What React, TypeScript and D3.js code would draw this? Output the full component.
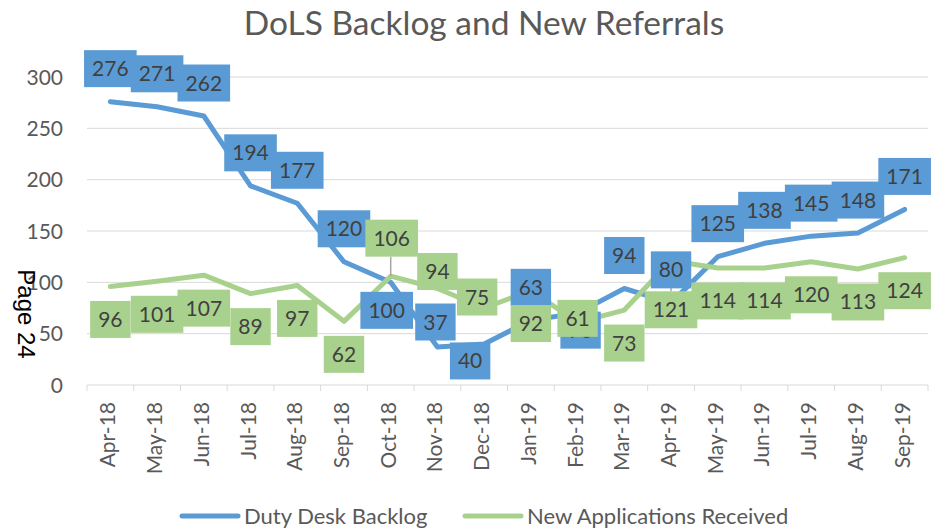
import * as React from "react";
import * as d3 from "d3";

const months = [
  "Apr-18", "May-18", "Jun-18", "Jul-18", "Aug-18", "Sep-18",
  "Oct-18", "Nov-18", "Dec-18", "Jan-19", "Feb-19", "Mar-19",
  "Apr-19", "May-19", "Jun-19", "Jul-19", "Aug-19", "Sep-19",
];
const backlog = [276, 271, 262, 194, 177, 120, 100, 37, 40, 63, 70, 94, 80, 125, 138, 145, 148, 171];
const newApps = [96, 101, 107, 89, 97, 62, 106, 94, 75, 92, 61, 73, 121, 114, 114, 120, 113, 124];
const yTicks = [0, 50, 100, 150, 200, 250, 300];
const seriesNames = ["Duty Desk Backlog", "New Applications Received"];

// hand-placed data label nudges (px), like the dragged labels in the original
const backlogShift: [number, number][] = months.map(() => [0, -33]);
backlogShift[6] = [-4, 28];
backlogShift[7] = [-2, -25];
backlogShift[8] = [-14, 17];
backlogShift[10] = [3, 17];

const newAppsShift: [number, number][] = months.map(() => [0, 33]);
newAppsShift[6] = [1, -38];
newAppsShift[7] = [0, -17];
newAppsShift[8] = [-7, -11];
newAppsShift[10] = [0, -4];
newAppsShift[12] = [0, 49];
const leaders = [[1, 6], [1, 12]]; // [series, index] with a leader line

const BLUE = "#5B9BD5";
const GREEN = "#A9D18E";
const FONT = "Lato, 'Open Sans', sans-serif";

const App = () => {
  const width = 932;
  const height = 528;
  const left = 87;
  const right = 928;

  const x = d3.scaleBand().domain(months).range([left, right]).padding(0);
  const y = d3.scaleLinear().domain([0, 300]).range([385, 77]);
  const cx = (m: string) => (x(m) ?? 0) + x.bandwidth() / 2;

  const line = d3
    .line<number>()
    .x((_, i) => cx(months[i]))
    .y((d) => y(d));

  const series = [
    { values: backlog, color: BLUE, shift: backlogShift },
    { values: newApps, color: GREEN, shift: newAppsShift },
  ];

  const boxH = 37;
  const boxW = (v: number) => String(v).length * 12.2 + 16;

  return (
    <svg
      width={width}
      height={height}
      viewBox={`0 0 ${width} ${height}`}
      style={{ position: "absolute", left: 0, top: 0, background: "#fff" }}
    >
      <rect x={0} y={0} width={width} height={height} fill="#fff" />

      {yTicks.map((t) => (
        <g key={t}>
          {t > 0 && <line x1={left} x2={right} y1={y(t)} y2={y(t)} stroke="#D9D9D9" strokeWidth={1} />}
          <text
            x={63}
            y={y(t) + 7.5}
            textAnchor="end"
            fill="#595959"
            fontSize={21}
            fontFamily={FONT}
          >
            {t}
          </text>
        </g>
      ))}

      <line x1={left} x2={right} y1={y(0)} y2={y(0)} stroke="#D9D9D9" strokeWidth={1} />
      {months.map((m) => (
        <line key={m} x1={x(m)} x2={x(m)} y1={y(0)} y2={y(0) + 6} stroke="#D9D9D9" />
      ))}
      <line x1={right} x2={right} y1={y(0)} y2={y(0) + 6} stroke="#D9D9D9" />

      {months.map((m) => (
        <text
          key={m}
          transform={`translate(${cx(m) + 5},402) rotate(-90)`}
          textAnchor="end"
          fill="#595959"
          fontSize={21}
          fontFamily={FONT}
        >
          {m}
        </text>
      ))}

      {series.map((s, k) => (
        <path
          key={k}
          d={line(s.values) ?? ""}
          fill="none"
          stroke={s.color}
          strokeWidth={5}
          strokeLinejoin="round"
          strokeLinecap="round"
        />
      ))}

      {leaders.map(([k, i]) => {
        const s = series[k];
        const px = cx(months[i]);
        const py = y(s.values[i]);
        const ly = py + s.shift[i][1];
        const edge = ly > py ? ly - boxH / 2 : ly + boxH / 2;
        return <line key={`${k}-${i}`} x1={px} x2={px} y1={py} y2={edge} stroke="#A6A6A6" strokeWidth={1.5} />;
      })}

      {series.map((s, k) => (
        <g key={k}>
          {s.values.map((v, i) => {
            const lx = cx(months[i]) + s.shift[i][0];
            const ly = y(v) + s.shift[i][1];
            const w = boxW(v);
            return (
              <g key={i}>
                <rect x={lx - w / 2} y={ly - boxH / 2} width={w} height={boxH} fill={s.color} />
                <text
                  x={lx}
                  y={ly + 7.5}
                  textAnchor="middle"
                  fill="#404040"
                  fontSize={21}
                  fontFamily={FONT}
                >
                  {v}
                </text>
              </g>
            );
          })}
        </g>
      ))}

      <text x={484} y={35} textAnchor="middle" fill="#595959" fontSize={33.5} fontFamily={FONT}>
        DoLS Backlog and New Referrals
      </text>

      {series.map((s, k) => {
        const x0 = k === 0 ? 182 : 465;
        return (
          <g key={k}>
            <line x1={x0} x2={x0 + 56} y1={516} y2={516} stroke={s.color} strokeWidth={5} strokeLinecap="round" />
            <text x={x0 + 62} y={524} fill="#595959" fontSize={22} fontFamily={FONT}>
              {seriesNames[k]}
            </text>
          </g>
        );
      })}

      <text
        transform="translate(18,314) rotate(90)"
        textAnchor="middle"
        fill="#000"
        fontSize={24}
        fontFamily="'Liberation Sans', Arial, sans-serif"
      >
        Page 24
      </text>
    </svg>
  );
};

export default App;
